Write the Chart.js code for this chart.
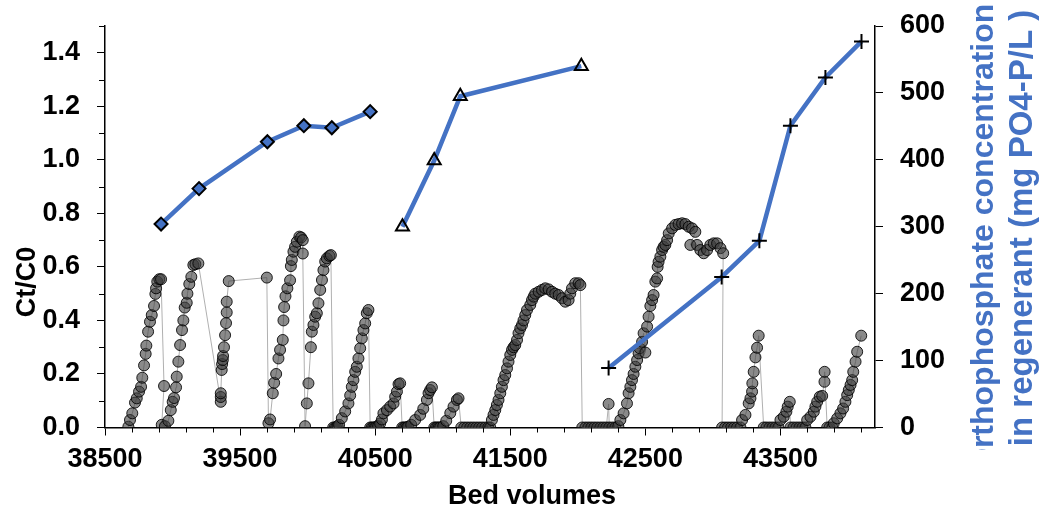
<!DOCTYPE html>
<html><head><meta charset="utf-8">
<script src="https://cdn.jsdelivr.net/npm/chart.js@4.4.1/dist/chart.umd.min.js"></script>
<style>html,body{margin:0;padding:0;background:#fff}#wrap{width:1041px;height:512px}</style>
</head><body><div id="wrap"><canvas id="c" width="1041" height="512"></canvas></div>
<script>
// ---- Effluent breakthrough (Ct/C0) vs bed volumes, in measurement order ----
const bedVolumes = [
 38673,38685,38702,38722,38735,38752,38767,38776,38789,38801,38806,38819,38833,38846,38863,38873,38878,38887,38902,38915,
 38937,38920,
 38944,38969,38987,39001,39011,39026,39031,39043,39056,39070,39080,39090,39105,39110,39124,39139,39154,39169,39191,
 39357,39357,39357,39364,39367,39372,39374,39381,39389,39396,39401,39401,39416,
 39698,
 39710,39722,39742,39752,39767,39784,39796,39816,39821,39826,39836,39850,39870,39876,39883,39895,39907,39920,39939,39952,39964,39964,
 39981,39994,40006,40024,40031,40043,40056,40068,40080,40093,40106,40117,40130,40142,40161,40172,
 40189,40200,40211,40222,40233,40253,40278,40302,40315,40327,40339,40352,40364,40376,40389,40401,40413,40426,40438,40450,
 40463,40474,40485,40496,40507,40522,40537,40550,40561,40587,40611,40636,40648,40661,40673,40685,
 40700,40711,40722,40733,40744,40767,40796,40833,40856,40883,40895,40907,40920,
 40937,40948,40959,40970,40981,41004,41026,41056,41080,41105,41117,
 41137,41159,41181,41204,41226,41248,41270,41292,41315,41337,41352,
 41364,41376,41389,41401,41413,41426,41438,41450,41463,41476,41487,41500,41513,41524,41537,41550,41561,41574,41587,41598,41611,41624,
 41648,41661,41673,41685,41710,41735,41759,41784,41809,41833,41858,41883,41907,41932,41944,41957,41981,42006,42019,
 42033,42056,42078,42100,42122,42144,42167,42189,42211,42228,42233,42256,42278,42300,
 42315,42339,42364,42376,42389,42401,42413,42426,42439,42450,42458,42476,42487,42500,42513,42524,42537,42550,42561,42574,42587,42591,
 42598,42611,42624,42635,42648,42661,42673,42698,42722,42746,42772,42796,42821,42846,42870,42833,42883,42907,42932,42957,42981,43006,43031,43056,43076,
 43068,43090,43112,43135,43157,43179,43204,
 43216,43241,43265,43278,43290,43292,43302,43315,43327,43339,
 43376,43396,43419,43441,43463,43485,
 43500,43524,43544,43554,43569,
 43574,43596,43619,43641,43663,43685,
 43698,43722,43747,43759,43772,43791,43809,43826,43827,
 43846,43863,43885,
 43895,43920,43944,43964,43981,43994,44006,44019,44031,44039,44056,44068,44098
];
const ctC0 = [
 0.003,0.028,0.053,0.093,0.109,0.134,0.152,0.186,0.232,0.275,0.306,0.358,0.395,0.42,0.454,0.499,0.52,0.545,0.554,0.554,
 0.155,0.01,
 0.005,0.025,0.065,0.096,0.11,0.15,0.19,0.246,0.308,0.364,0.40,0.448,0.466,0.50,0.536,0.563,0.607,0.61,0.613,
 0.096,0.114,0.128,0.215,0.237,0.252,0.267,0.30,0.345,0.39,0.43,0.47,0.547,
 0.56,
 0.016,0.03,0.128,0.167,0.20,0.258,0.29,0.327,0.40,0.45,0.49,0.52,0.55,0.603,0.626,0.657,0.675,0.694,0.713,0.71,0.70,0.65,
 0.005,0.09,0.165,0.30,0.358,0.383,0.414,0.427,0.464,0.514,0.551,0.588,0.62,0.632,0.641,0.644,
 0,0,0,0.005,0.01,0.035,0.06,0.09,0.12,0.152,0.177,0.208,0.227,0.258,0.296,0.333,0.364,0.389,0.427,0.439,
 0,0,0,0,0.002,0.005,0.015,0.03,0.053,0.065,0.078,0.09,0.115,0.134,0.162,0.165,
 0,0,0,0,0.003,0.01,0.028,0.047,0.07,0.103,0.128,0.14,0.15,
 0,0,0,0,0,0.005,0.025,0.054,0.078,0.103,0.109,
 0,0,0,0,0,0,0,0,0,0,0,
 0.028,0.047,0.065,0.084,0.103,0.128,0.152,0.177,0.196,0.221,0.246,0.271,0.29,0.30,0.308,0.327,0.352,0.37,0.383,0.40,0.42,0.439,
 0.458,0.476,0.489,0.50,0.507,0.514,0.52,0.516,0.507,0.50,0.495,0.483,0.47,0.476,0.50,0.52,0.539,0.539,0.532,
 0,0,0,0,0,0,0,0,0,0.088,0,0,0,0.005,
 0.028,0.053,0.09,0.128,0.152,0.177,0.20,0.227,0.252,0.277,0.296,0.32,0.352,0.28,0.377,0.414,0.454,0.476,0.495,0.545,0.557,0.60,
 0.619,0.638,0.663,0.675,0.682,0.70,0.725,0.744,0.757,0.76,0.763,0.76,0.75,0.744,0.731,0.682,0.682,0.663,0.651,0.663,0.682,0.688,0.688,0.67,0.651,
 0,0,0,0,0,0,0,
 0.028,0.047,0.09,0.109,0.134,0.165,0.208,0.262,0.298,0.343,
 0,0,0,0,0,0,
 0.028,0.04,0.059,0.078,0.096,
 0,0,0,0,0,0,
 0.028,0.04,0.059,0.078,0.096,0.115,0.118,0.171,0.208,
 0,0,0,
 0.016,0.034,0.053,0.071,0.096,0.121,0.14,0.159,0.177,0.208,0.246,0.283,0.343
];
// ---- Orthophosphate concentration in regenerant (mg PO4-P/L), three regeneration series ----
const diamondBV = [38915, 39196, 39702, 39972, 40179, 40463];
const diamondConc = [304, 357, 427, 451, 448, 472];
const triangleBV = [40702, 40937, 41130, 42026];
const triangleConc = [300, 399, 495, 540];
const crossBV = [42228, 43065, 43344, 43574, 43833, 44100];
const crossConc = [89, 225, 279, 451, 523, 577];

// ---- Axes ----
const xTicks = [38500, 39500, 40500, 41500, 42500, 43500];
const leftTicks = [0, 0.2, 0.4, 0.6, 0.8, 1.0, 1.2, 1.4];
const rightTicks = [0, 100, 200, 300, 400, 500, 600];
const xTitle = 'Bed volumes';
const yTitle = 'Ct/C0';
const y2Title = ['Orthophosphate concentration', 'in regenerant (mg PO4-P/L )'];

const FAM = '"Liberation Sans", Arial, sans-serif';
const BLUE = '#4472C4';
const tickFont = {family: FAM, size: 27, weight: 'bold'};

const zip = (xs, ys) => xs.map((x, i) => ({x, y: ys[i]}));

const minorTicks = {
  id: 'minorTicks',
  afterDraw(chart) {
    const {ctx, scales: {x, y}} = chart;
    ctx.save();
    ctx.strokeStyle = '#000';
    ctx.lineWidth = 1;
    ctx.beginPath();
    for (let v = 38700; v <= 44200; v += 200) {
      if (xTicks.includes(v)) continue;
      const px = Math.round(x.getPixelForValue(v)) + 0.5;
      ctx.moveTo(px, y.bottom); ctx.lineTo(px, y.bottom + 5);
    }
    for (let k = 1; k <= 15; k += 2) {
      const py = Math.round(y.getPixelForValue(k / 10)) + 0.5;
      ctx.moveTo(x.left, py); ctx.lineTo(x.left - 6, py);
    }
    ctx.stroke();
    ctx.restore();
  }
};

const titles = {
  id: 'titles',
  afterDraw(chart) {
    const ctx = chart.ctx;
    ctx.save();
    ctx.textAlign = 'center';
    ctx.textBaseline = 'middle';
    ctx.fillStyle = '#000';
    ctx.font = 'bold 27px ' + FAM;
    ctx.fillText(xTitle, 532, 497);
    ctx.save();
    ctx.translate(28, 282);
    ctx.rotate(-Math.PI / 2);
    ctx.fillText(yTitle, 0, 0);
    ctx.restore();
    ctx.fillStyle = BLUE;
    // line 1: starts below the title box and is clipped there
    ctx.save();
    ctx.beginPath();
    ctx.rect(940, 0, 101, 450);
    ctx.clip();
    ctx.font = 'bold 32px ' + FAM;
    ctx.textAlign = 'left';
    ctx.translate(984, 473);
    ctx.rotate(-Math.PI / 2);
    ctx.fillText(y2Title[0], 0, 0);
    ctx.restore();
    // line 2
    ctx.save();
    ctx.font = 'bold 33px ' + FAM;
    ctx.translate(1023, 228);
    ctx.rotate(-Math.PI / 2);
    ctx.fillText(y2Title[1], 0, 0);
    ctx.restore();
    ctx.restore();
  }
};

const axisCommon = {
  grid: {display: true, drawOnChartArea: false, drawTicks: true, tickLength: 8, color: '#000', lineWidth: 1},
  border: {display: true, color: '#000', width: 1.5},
};

new Chart(document.getElementById('c'), {
  type: 'scatter',
  data: {
    datasets: [
      {
        label: 'Diamond', data: zip(diamondBV, diamondConc), yAxisID: 'y2', showLine: true, order: 0,
        borderColor: BLUE, borderWidth: 4.5, pointStyle: 'rectRot', pointRadius: 6.5,
        pointBackgroundColor: BLUE, pointBorderColor: '#000', pointBorderWidth: 2
      },
      {
        label: 'Triangle', data: zip(triangleBV, triangleConc), yAxisID: 'y2', showLine: true, order: 0,
        borderColor: BLUE, borderWidth: 4.5, pointStyle: 'triangle', pointRadius: 7.5,
        pointBackgroundColor: 'rgba(0,0,0,0)', pointBorderColor: '#000', pointBorderWidth: 2
      },
      {
        label: 'Cross', data: zip(crossBV, crossConc), yAxisID: 'y2', showLine: true, order: 0,
        borderColor: BLUE, borderWidth: 4.5, pointStyle: 'cross', pointRadius: 7.5,
        pointBackgroundColor: '#000', pointBorderColor: '#000', pointBorderWidth: 2
      },
      {
        label: 'Ct/C0', data: zip(bedVolumes, ctC0), yAxisID: 'y', showLine: true, order: 1,
        borderColor: '#b0b0b0', borderWidth: 1, pointStyle: 'circle', pointRadius: 5.5,
        pointBackgroundColor: 'rgba(60,60,60,0.6)', pointBorderColor: 'rgba(0,0,0,0.85)', pointBorderWidth: 1
      }
    ]
  },
  options: {
    responsive: false, animation: false, devicePixelRatio: 1,
    layout: {padding: {top: 26, left: 0, right: 0, bottom: 0}},
    plugins: {legend: {display: false}, tooltip: {enabled: false}},
    scales: {
      x: {
        type: 'linear', position: 'bottom', min: 38500, max: 44200,
        afterBuildTicks: s => { s.ticks = xTicks.map(v => ({value: v})); },
        afterFit: s => { s.height = 84.5; },
        ...axisCommon,
        ticks: {font: tickFont, color: '#000', padding: 8, maxRotation: 0, autoSkip: false, callback: v => String(v)}
      },
      y: {
        type: 'linear', position: 'left', min: 0, max: 1.5,
        afterBuildTicks: s => { s.ticks = leftTicks.map(v => ({value: v})); },
        afterFit: s => { s.width = 105; s.paddingTop = 0; s.paddingBottom = 0; },
        ...axisCommon,
        ticks: {font: tickFont, color: '#000', padding: 17, callback: v => Number(v).toFixed(1)}
      },
      y2: {
        type: 'linear', position: 'right', min: 0, max: 600,
        afterBuildTicks: s => { s.ticks = rightTicks.map(v => ({value: v})); },
        afterFit: s => { s.width = 166; s.paddingTop = 0; s.paddingBottom = 0; },
        ...axisCommon,
        ticks: {font: tickFont, color: '#000', padding: 17, callback: v => String(v)}
      }
    }
  },
  plugins: [minorTicks, titles]
});
</script>
</body></html>
